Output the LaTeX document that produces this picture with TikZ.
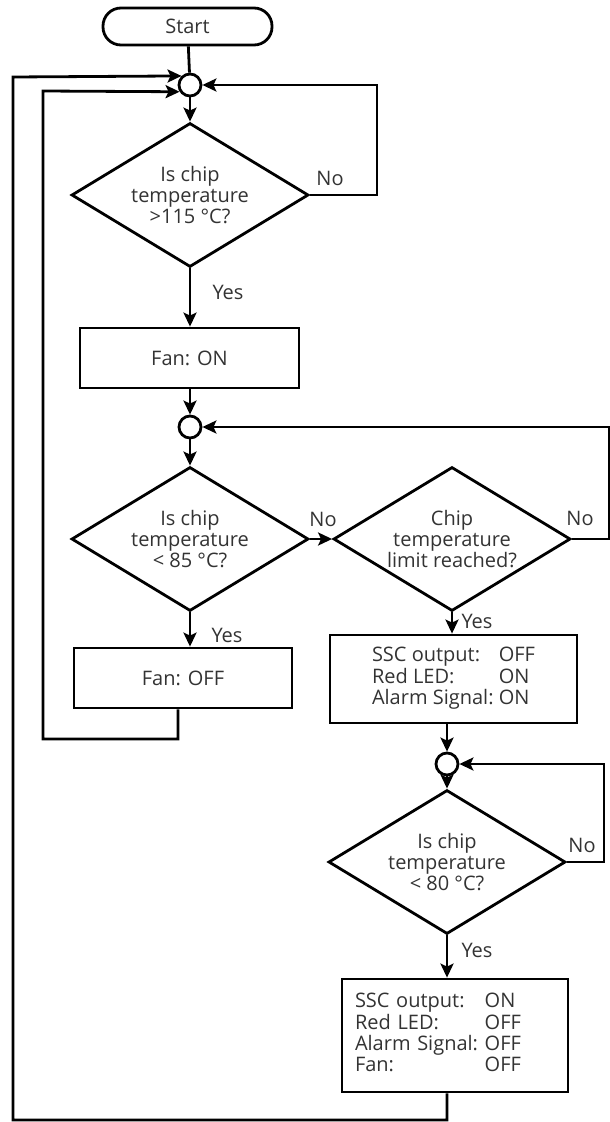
\documentclass[tikz,border=0pt]{standalone}
\usepackage{fontspec}
\setmainfont{Open Sans}
\usetikzlibrary{shapes.geometric,arrows.meta}

\tikzset{
  flowline/.style={line width=2.8pt},
  flowarrow/.style={flowline, -{Stealth[length=14pt,width=13pt,inset=3pt]}},
  terminal/.style={draw, line width=2.8pt, rounded corners=18pt,
    minimum width=169pt, minimum height=37pt, text=black!80},
  junction/.style={draw, line width=2.8pt, circle, minimum size=22pt, inner sep=0pt},
  decision/.style={draw, line width=2.8pt, diamond, aspect=1.65, inner sep=0pt,
    minimum width=237pt, minimum height=144pt, align=center, text=black!80},
  process/.style={draw, line width=2.8pt, rectangle, inner sep=0pt,
    align=center, text=black!80},
  branch/.style={text=black!80},
}

\begin{document}
\begin{tikzpicture}[x=1pt, y=-1pt, font=\fontsize{20}{21}\selectfont]
\useasboundingbox (0,0) rectangle (610,1122);

% fan column
\node[terminal] (start) at (187.5,26.5) {Start};
\node[junction] (j1) at (190,85) {};
\node[decision] (d1) at (190,195) {Is chip\\temperature\\>115 °C?};
\node[process, minimum width=219pt, minimum height=60pt] (fanon) at (189.5,358) {Fan: ON};
\node[junction] (j2) at (190,427) {};
\node[decision] (d2) at (190,539) {Is chip\\temperature\\< 85 °C?};
\node[process, minimum width=218pt, minimum height=60pt] (fanoff) at (183,678) {Fan: OFF};

% alarm column
\node[decision] (d3) at (452,539) {Chip\\temperature\\limit reached?};
\node[process, minimum width=247pt, minimum height=88pt] (alarmon) at (453.5,679)
  {\begin{tabular}{@{}l@{\ }l@{}}SSC output: & OFF\\ Red LED: & ON\\ Alarm Signal: & ON\end{tabular}};
\node[junction] (j3) at (447,764) {};
\node[decision] (d4) at (447,862) {Is chip\\temperature\\< 80 °C?};
\node[process, minimum width=226pt, minimum height=113pt, text width=200pt,
  align=left, inner xsep=13pt] (alarmoff) at (455,1035.5)
  {\begin{tabular}{@{}l@{\ }l@{}}SSC output: & ON\\ Red LED: & OFF\\ Alarm Signal: & OFF\\ Fan: & OFF\end{tabular}};

% branch labels
\node[branch] (no1) at (330,178) {No};
\node[branch] (yes1) at (228,292) {Yes};
\node[branch] (no2) at (323,519) {No};
\node[branch] (no3) at (580,518) {No};
\node[branch] (yes2) at (227,635) {Yes};
\node[branch] (yes3) at (477,621) {Yes};
\node[branch] (no4) at (582,845) {No};
\node[branch] (yes4) at (477,950) {Yes};

% connectors
\draw[flowline] (start) -- (j1);
\draw[flowarrow] (j1) -- (d1);
\draw[flowarrow] (d1.east) -- ++(67,0) |- (j1.east);
\draw[flowarrow] (d1.south) -- (d1.south |- fanon.north);
\draw[flowarrow] (fanon.south -| j2) -- (j2);
\draw[flowarrow] (j2) -- (d2);
\draw[flowarrow] (d2) -- (d3);
\draw[flowarrow] (d3.east) -- ++(37,0) |- (j2.east);
\draw[flowarrow] (d2.south) -- (d2.south |- fanoff.north);
\draw[flowarrow] ([xshift=-5pt]fanoff.south) |- (43,739) -- (43,91) -- (j1.213);
\draw[flowarrow] (d3.south) -- (d3.south |- alarmon.north);
\draw[flowarrow] (alarmon.south -| j3) -- (j3);
\draw[flowarrow] (j3) -- (d4);
\draw[flowarrow] (d4.east) -- ++(37,0) |- (j3.east);
\draw[flowarrow] (d4.south) -- (d4.south |- alarmoff.north);
\draw[flowarrow] (alarmoff.south -| d4.south) |- (13,1120) -- (13,77) -- (j1.133);

\end{tikzpicture}
\end{document}
